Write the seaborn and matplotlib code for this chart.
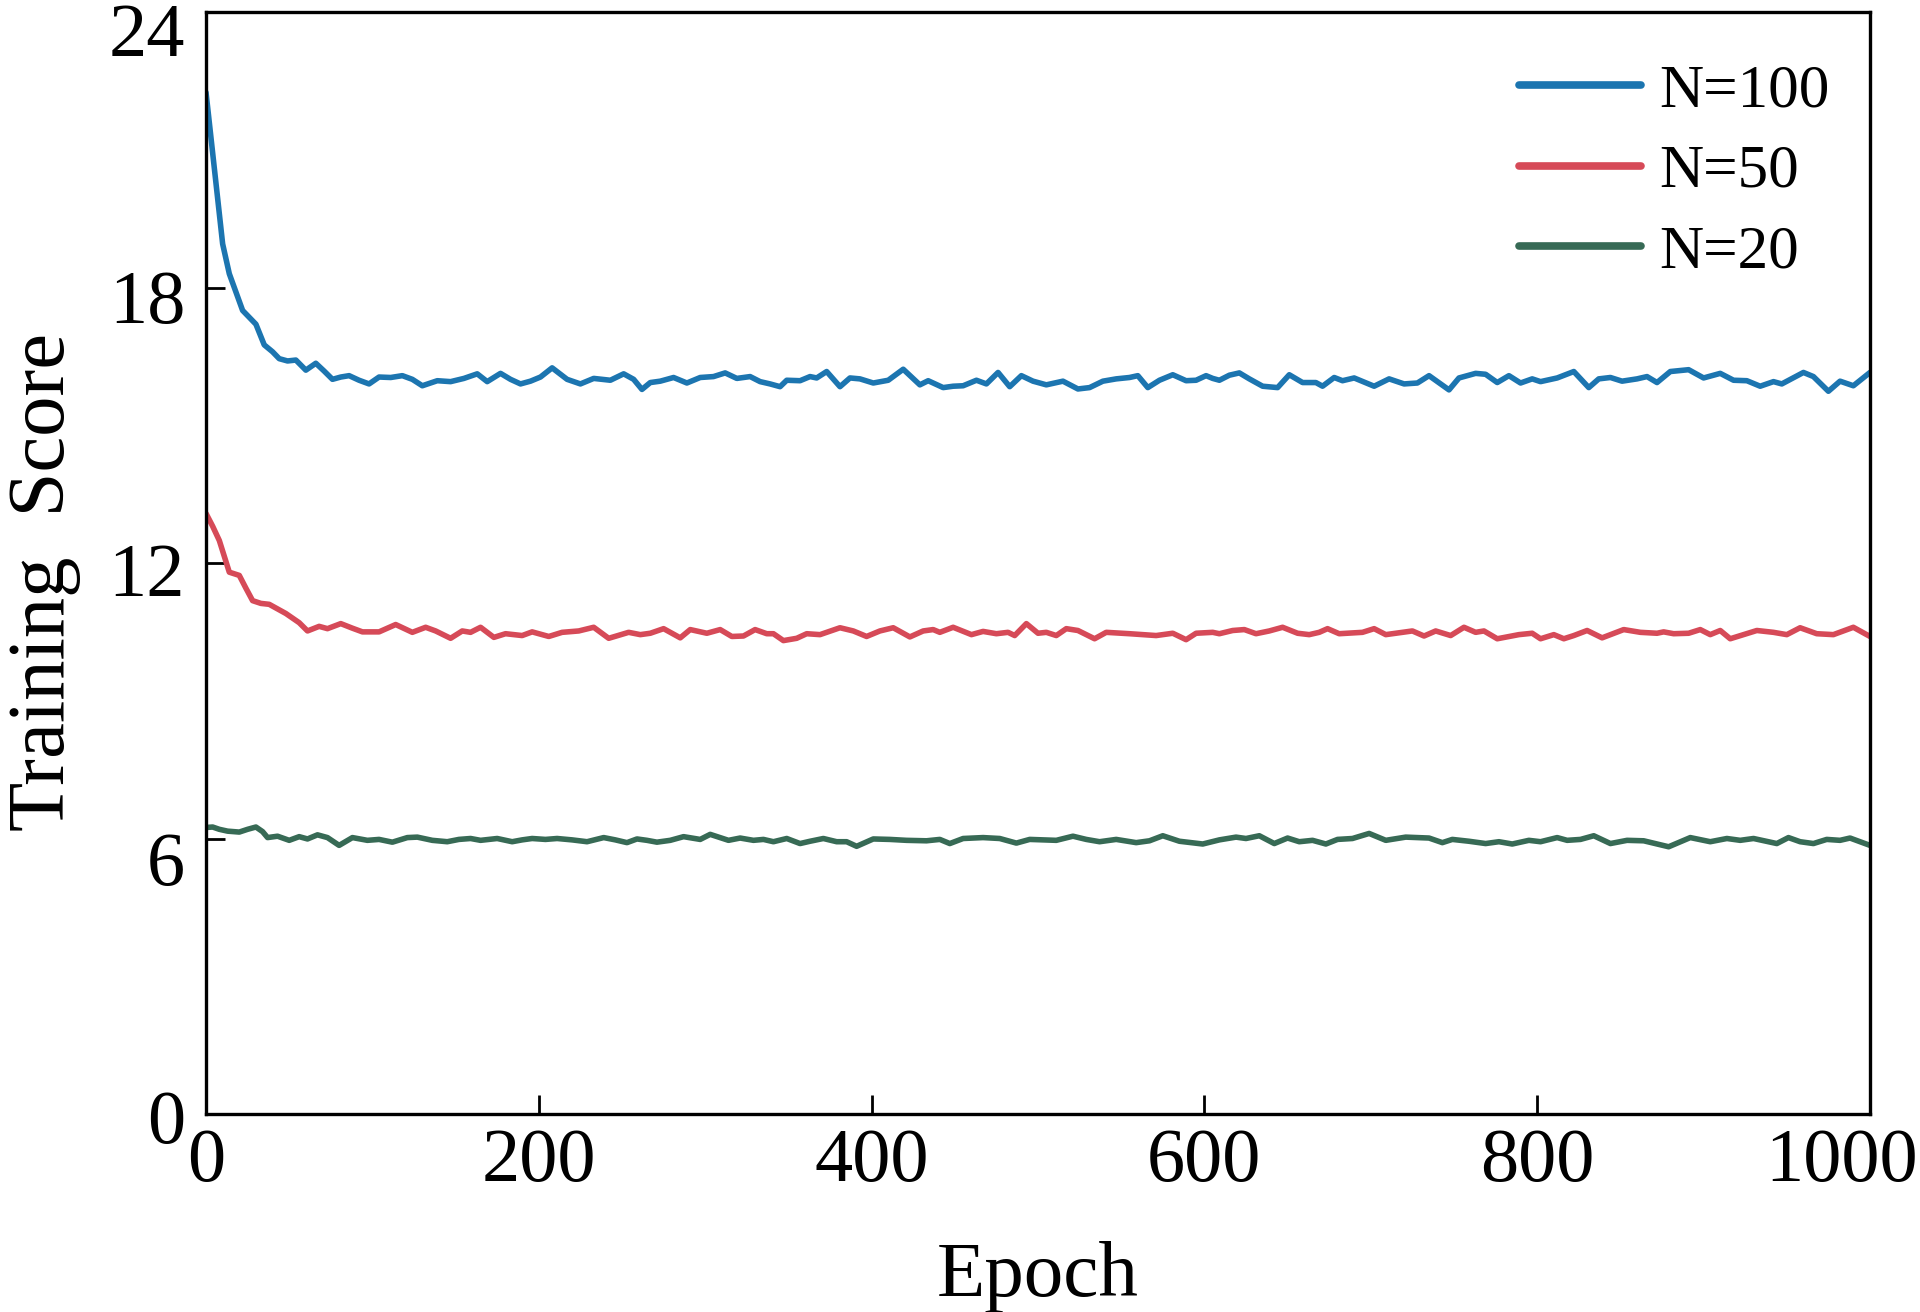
import matplotlib
matplotlib.use("Agg")
from matplotlib import pyplot as plt
import matplotlib.transforms as mtransforms
import seaborn as sns
import pandas as pd

# values
n100_epoch = [0, 5, 10, 14, 18, 22, 26, 30, 35, 40, 44, 49, 54, 60, 66, 71, 76, 81, 86, 92, 98,
              104, 111, 118, 124, 130, 139, 147, 155, 163, 169, 177, 183, 189, 195, 201, 208,
              217, 225, 233, 243, 251, 257, 262, 267, 273, 281, 289, 297, 305, 312, 319, 327,
              333, 339, 345, 349, 357, 363, 367, 373, 381, 387, 393, 401, 410, 419, 429, 434,
              443, 449, 455, 463, 469, 476, 483, 490, 497, 505, 515, 524, 531, 539, 547, 555,
              560, 566, 573, 581, 589, 595, 601, 605, 609, 615, 621, 627, 635, 644, 651, 659,
              667, 671, 678, 683, 690, 702, 711, 720, 728, 735, 747, 753, 763, 769, 776, 783,
              790, 797, 802, 812, 822, 831, 837, 844, 851, 860, 866, 872, 880, 891, 900, 910,
              918, 926, 934, 942, 947, 960, 966, 975, 982, 990, 1000]
n100_score = [22.25, 20.6, 18.95, 18.3, 17.9, 17.5, 17.35, 17.2, 16.75, 16.6, 16.45, 16.4, 16.42,
              16.2, 16.35, 16.18, 16.0, 16.05, 16.08, 15.98, 15.9, 16.05, 16.04, 16.08, 16.0,
              15.86, 15.97, 15.95, 16.02, 16.12, 15.95, 16.13, 16.0, 15.9, 15.96, 16.05, 16.25,
              16.0, 15.9, 16.02, 15.98, 16.12, 16.0, 15.78, 15.93, 15.96, 16.04, 15.92, 16.04,
              16.06, 16.14, 16.02, 16.06, 15.95, 15.9, 15.84, 15.98, 15.97, 16.06, 16.03, 16.17,
              15.84, 16.03, 16.01, 15.92, 15.98, 16.22, 15.88, 15.97, 15.82, 15.85, 15.86, 15.98,
              15.9, 16.15, 15.84, 16.08, 15.96, 15.88, 15.96, 15.79, 15.82, 15.96, 16.01, 16.04,
              16.08, 15.82, 15.98, 16.1, 15.97, 15.98, 16.08, 16.02, 15.98, 16.09, 16.14, 16.01,
              15.85, 15.82, 16.1, 15.93, 15.93, 15.85, 16.04, 15.97, 16.03, 15.85, 16.01, 15.9,
              15.92, 16.08, 15.77, 16.03, 16.13, 16.11, 15.93, 16.08, 15.92, 16.01, 15.95, 16.03,
              16.17, 15.82, 16.01, 16.04, 15.96, 16.01, 16.06, 15.93, 16.17, 16.21, 16.03, 16.13,
              15.98, 15.97, 15.85, 15.95, 15.9, 16.15, 16.06, 15.74, 15.96, 15.86, 16.15]

n50_epoch = [0, 4, 8, 14, 20, 24, 28, 33, 38, 43, 48, 56, 61, 68, 73, 81, 88, 94, 104, 114, 124,
             132, 138, 147, 154, 159, 165, 173, 180, 190, 196, 206, 214, 224, 233, 242, 254, 261,
             267, 275, 285, 291, 301, 309, 316, 323, 330, 337, 341, 347, 355, 361, 369, 381, 389,
             397, 405, 413, 423, 431, 437, 441, 449, 460, 467, 475, 482, 486, 493, 500, 505, 511,
             517, 524, 534, 541, 555, 571, 581, 589, 595, 605, 609, 617, 624, 631, 639, 647, 656,
             663, 669, 674, 681, 695, 702, 709, 725, 732, 739, 748, 756, 763, 768, 776, 789, 797,
             802, 810, 816, 822, 830, 839, 852, 862, 872, 876, 882, 891, 898, 904, 910, 916, 932,
             942, 950, 958, 968, 978, 990, 1000]
n50_score = [13.08, 12.8, 12.49, 11.8, 11.73, 11.45, 11.18, 11.12, 11.1, 11.0, 10.9, 10.7, 10.52,
             10.62, 10.57, 10.68, 10.58, 10.5, 10.5, 10.66, 10.49, 10.6, 10.52, 10.36, 10.52,
             10.49, 10.6, 10.38, 10.46, 10.42, 10.5, 10.4, 10.49, 10.52, 10.6, 10.36, 10.49,
             10.44, 10.47, 10.57, 10.37, 10.55, 10.47, 10.55, 10.4, 10.41, 10.55, 10.46, 10.46,
             10.31, 10.36, 10.46, 10.44, 10.59, 10.52, 10.4, 10.52, 10.59, 10.39, 10.52, 10.55,
             10.49, 10.6, 10.44, 10.51, 10.46, 10.49, 10.42, 10.68, 10.47, 10.49, 10.42, 10.57,
             10.53, 10.35, 10.49, 10.46, 10.42, 10.47, 10.33, 10.47, 10.49, 10.46, 10.53, 10.55,
             10.46, 10.52, 10.6, 10.47, 10.44, 10.49, 10.57, 10.46, 10.49, 10.57, 10.44, 10.52,
             10.41, 10.52, 10.42, 10.6, 10.49, 10.52, 10.35, 10.44, 10.47, 10.35, 10.44, 10.35,
             10.42, 10.53, 10.37, 10.55, 10.49, 10.47, 10.5, 10.46, 10.47, 10.55, 10.44, 10.53,
             10.35, 10.53, 10.49, 10.44, 10.59, 10.46, 10.44, 10.6, 10.4]

n20_epoch = [0, 4, 8, 13, 20, 25, 30, 34, 37, 43, 50, 56, 61, 67, 73, 80, 88, 97, 104, 112, 121,
             127, 136, 145, 152, 159, 165, 175, 184, 190, 196, 204, 211, 220, 229, 239, 246, 253,
             259, 265, 271, 279, 287, 297, 303, 314, 321, 329, 335, 341, 349, 357, 363, 371, 379,
             385, 391, 401, 411, 421, 433, 441, 447, 455, 467, 477, 487, 495, 503, 511, 521, 529,
             537, 547, 559, 567, 575, 585, 599, 609, 619, 625, 633, 642, 650, 657, 665, 673, 680,
             689, 699, 709, 721, 735, 743, 749, 759, 769, 777, 785, 795, 802, 812, 818, 826, 834,
             844, 854, 864, 879, 892, 904, 914, 922, 930, 944, 951, 958, 966, 974, 982, 988, 1000]
n20_score = [6.24, 6.25, 6.2, 6.16, 6.14, 6.2, 6.25, 6.15, 6.02, 6.05, 5.96, 6.04, 5.99, 6.08,
             6.02, 5.85, 6.02, 5.96, 5.98, 5.92, 6.02, 6.03, 5.96, 5.93, 5.98, 6.0, 5.96, 6.0,
             5.93, 5.97, 6.0, 5.98, 6.0, 5.97, 5.93, 6.02, 5.97, 5.91, 5.99, 5.96, 5.92, 5.96,
             6.04, 5.98, 6.09, 5.96, 6.01, 5.96, 5.98, 5.93, 6.0, 5.89, 5.94, 6.0, 5.93, 5.93,
             5.83, 5.99, 5.98, 5.96, 5.95, 5.98, 5.89, 6.0, 6.02, 6.0, 5.9, 5.98, 5.97, 5.96,
             6.05, 5.98, 5.93, 5.98, 5.91, 5.95, 6.06, 5.94, 5.88, 5.97, 6.03, 6.0, 6.06, 5.89,
             6.01, 5.93, 5.96, 5.88, 5.98, 6.0, 6.11, 5.96, 6.03, 6.01, 5.91, 5.98, 5.94, 5.89,
             5.93, 5.88, 5.96, 5.93, 6.02, 5.96, 5.98, 6.06, 5.89, 5.96, 5.95, 5.82, 6.02, 5.93,
             6.0, 5.96, 6.0, 5.89, 6.02, 5.93, 5.89, 5.98, 5.96, 6.01, 5.85]

labels = ["N=100", "N=50", "N=20"]
colors = {"N=100": "#1c75b0", "N=50": "#d64a58", "N=20": "#376a55"}
x_ticks = [0, 200, 400, 600, 800, 1000]
y_ticks = [0, 6, 12, 18, 24]

df = pd.concat([
    pd.DataFrame({"Epoch": n100_epoch, "Score": n100_score, "N": "N=100"}),
    pd.DataFrame({"Epoch": n50_epoch, "Score": n50_score, "N": "N=50"}),
    pd.DataFrame({"Epoch": n20_epoch, "Score": n20_score, "N": "N=20"}),
], ignore_index=True)

sns.set_theme(style="ticks")
plt.rcParams["font.family"] = ["Liberation Serif", "DejaVu Serif"]
plt.rcParams["text.color"] = "black"

fig = plt.figure(figsize=(19.2, 13.12), dpi=100)
ax = fig.add_axes([206 / 1920, 1 - 1114 / 1312, (1870 - 206) / 1920, (1114 - 12) / 1312])

sns.lineplot(data=df, x="Epoch", y="Score", hue="N", hue_order=labels, palette=colors,
             estimator=None, linewidth=4.0, ax=ax)

ax.set_xlim(0, 1000)
ax.set_ylim(0, 24)
ax.set_xticks(x_ticks)
ax.set_yticks(y_ticks)
ax.tick_params(axis="both", direction="in", length=14, width=2.0, labelsize=55,
               colors="black")
ax.tick_params(axis="x", pad=10)
ax.tick_params(axis="y", pad=15)
for s in ax.spines.values():
    s.set_linewidth(2.4)
    s.set_color("black")

ax.set_xlabel("Epoch", fontsize=57, labelpad=32, color="black")
ax.set_ylabel("Training  Score", fontsize=58, labelpad=20, color="black")
ax.yaxis.label.set_y(0.483)

# tick labels in the reference sit a little off-centre, and "1000" is pulled inside the figure
y_shift = [-2, -20, -7, -9, -18]
for tick, dy in zip(ax.yaxis.get_major_ticks(), y_shift):
    tick.label1.set_transform(tick.label1.get_transform()
                              + mtransforms.ScaledTranslation(0, dy / 100, fig.dpi_scale_trans))
last = ax.xaxis.get_major_ticks()[-1].label1
last.set_transform(last.get_transform()
                   + mtransforms.ScaledTranslation(-28 / 100, 0, fig.dpi_scale_trans))

leg = ax.legend(loc="upper right", bbox_to_anchor=(1.007, 1.0), frameon=False, fontsize=44,
                handlelength=2.0, handletextpad=0.3, labelspacing=0.4, borderaxespad=0.45)
for line in leg.get_lines():
    line.set_linewidth(5.5)
for txt in leg.get_texts():
    txt.set_color("black")

fig.savefig("out.png", dpi=100)
